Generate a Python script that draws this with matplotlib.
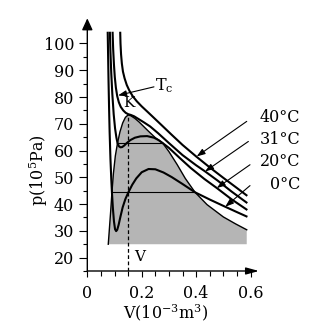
import matplotlib
matplotlib.use("Agg")
import matplotlib.pyplot as plt
from matplotlib.ticker import MultipleLocator, FixedLocator, FixedFormatter

plt.rcParams["font.family"] = ["DejaVu Serif"]
plt.rcParams["mathtext.fontset"] = "dejavuserif"

# isotherms (V in 10^-3 m^3, p in 10^5 Pa)
V40 = [0.121, 0.122, 0.124, 0.127, 0.131, 0.137, 0.145, 0.155, 0.167, 0.182, 0.2,
       0.22, 0.245, 0.275, 0.31, 0.35, 0.4, 0.45, 0.5, 0.55, 0.585]
p40 = [104, 100, 96, 92.5, 89.5, 87, 84.5, 82.3, 80.3, 78.4, 76.5,
       74.6, 72.2, 69.3, 65.9, 62.1, 57.8, 53.7, 49.8, 46.0, 43.3]

V31 = [0.093, 0.095, 0.098, 0.101, 0.105, 0.11, 0.116, 0.123, 0.132, 0.141, 0.15,
       0.16, 0.172, 0.188, 0.207, 0.231, 0.26, 0.3, 0.35, 0.4, 0.433, 0.48, 0.53, 0.585]
p31 = [104, 98, 92, 87.5, 83.5, 80.3, 78, 76.3, 75, 74.1, 73.6,
       73.3, 72.8, 71.8, 70.6, 69.0, 66.5, 62.8, 58.3, 54.5, 52.2, 48.7, 44.7, 40.6]

V20 = [0.083, 0.085, 0.088, 0.092, 0.097, 0.102, 0.107, 0.111, 0.116, 0.122, 0.128,
       0.136, 0.145, 0.158, 0.175, 0.195, 0.22, 0.245, 0.262, 0.277, 0.3, 0.34,
       0.38, 0.43, 0.476, 0.53, 0.585]
p20 = [104, 97, 89, 81, 73.5, 68.3, 64.8, 62.8, 61.6, 61.2, 61.3,
       61.9, 62.8, 63.9, 64.8, 65.3, 65.4, 64.8, 63.9, 62.8, 61, 57.2,
       53.5, 49.4, 46, 41.8, 38]

V0 = [0.075, 0.0765, 0.078, 0.08, 0.082, 0.085, 0.088, 0.0905, 0.094, 0.098, 0.102,
      0.106, 0.11, 0.115, 0.122, 0.13, 0.14, 0.151, 0.165, 0.18, 0.2, 0.225, 0.25,
      0.28, 0.31, 0.35, 0.396, 0.45, 0.507, 0.55, 0.585]
p0 = [104, 95, 86, 76, 67, 57, 49.5, 44.4, 38.5, 33.5, 30.6,
      29.9, 30.4, 32.2, 35.4, 38.8, 41.9, 44.4, 47.2, 49.6, 51.9, 53.1, 53.0,
      51.8, 50.1, 47.5, 44.4, 41.7, 39.0, 37.0, 35.4]

# coexistence curve (edge of the grey region)
Vb = [0.077, 0.081, 0.086, 0.0905, 0.096, 0.103, 0.111, 0.12, 0.13, 0.14, 0.15,
      0.16, 0.175, 0.19, 0.205, 0.225, 0.25, 0.277, 0.3, 0.33, 0.36, 0.396,
      0.44, 0.5, 0.545, 0.586]
pb = [25, 30.5, 37.5, 44.4, 51.5, 58, 62.8, 67, 70.3, 72.4, 73.3,
      73.0, 72.0, 70.7, 69.2, 67.2, 64.8, 62.8, 59.6, 54.8, 49.6, 44.4,
      39.8, 35.2, 32.6, 30.4]
p_floor = 25

# horizontal (Maxwell) lines
V_h20 = [0.111, 0.277]
p_h20 = 62.8
V_h0 = [0.0905, 0.396]
p_h0 = 44.4

V_crit = 0.15
p_crit = 73.3

# labels with arrows: (text, text pos, arrow tail, arrow tip)
temp_labels = ["40°C", "31°C", "20°C", "0°C"]
label_p = [72.2, 64.0, 55.9, 47.2]
tail_V = [0.586, 0.592, 0.598, 0.598]
tail_p = [70.9, 63.4, 54.7, 46.9]
tip_V = [0.402, 0.433, 0.476, 0.507]
tip_p = [57.8, 52.2, 46.0, 39.0]

x_ticks = [0, 0.2, 0.4, 0.6]
x_ticklabels = ["0", "0.2", "0.4", "0.6"]
y_ticks = [20, 30, 40, 50, 60, 70, 80, 90, 100]

fig = plt.figure(figsize=(3.27, 3.29), dpi=100)
ax = fig.add_axes([0.267, 0.1763, 0.525, 0.768])
ax.set_xlim(0, 0.631)
ax.set_ylim(15, 109.4)

# grey two-phase region
ax.fill(Vb + [Vb[-1]], pb + [p_floor], color="#b5b5b5", lw=0, zorder=1)
ax.plot(Vb, pb, color="k", lw=1.0, zorder=2)

for V, p in [(V40, p40), (V31, p31), (V20, p20), (V0, p0)]:
    ax.plot(V, p, color="k", lw=1.5, zorder=3, solid_joinstyle="round")

ax.plot(V_h20, [p_h20, p_h20], color="k", lw=0.8, zorder=3)
ax.plot(V_h0, [p_h0, p_h0], color="k", lw=0.8, zorder=3)
ax.plot([V_crit, V_crit], [15, p_crit], color="k", lw=0.9, ls=(0, (3, 2)), zorder=2)

ax.text(0.151, 77.6, "K", fontsize=11, ha="center", va="center")
ax.text(0.194, 20.2, "V", fontsize=11, ha="center", va="center")
ax.text(0.25, 84.3, "T$_\\mathrm{c}$", fontsize=11.5, ha="left", va="center")
ax.annotate("", xy=(0.113, 80.6), xytext=(0.245, 83.8),
            arrowprops=dict(arrowstyle="-|>,head_length=0.5,head_width=0.18",
                            color="k", lw=0.8, mutation_scale=10,
                            shrinkA=0, shrinkB=0))

for t, lp, tv, tp, hv, hp in zip(temp_labels, label_p, tail_V, tail_p, tip_V, tip_p):
    ax.text(0.782, lp, t, fontsize=11.5, ha="right", va="center")
    ax.annotate("", xy=(hv, hp), xytext=(tv, tp),
                arrowprops=dict(arrowstyle="-|>,head_length=0.5,head_width=0.18",
                                color="k", lw=0.8, mutation_scale=10,
                                shrinkA=0, shrinkB=0), annotation_clip=False)

# axes drawn as arrows
for s in ax.spines.values():
    s.set_visible(False)
ax.annotate("", xy=(1, 0), xytext=(0, 0), xycoords="axes fraction",
            arrowprops=dict(arrowstyle="-|>,head_length=0.55,head_width=0.15",
                            color="k", lw=1.0, mutation_scale=14,
                            shrinkA=0, shrinkB=0))
ax.annotate("", xy=(0, 1), xytext=(0, 0), xycoords="axes fraction",
            arrowprops=dict(arrowstyle="-|>,head_length=0.5,head_width=0.23",
                            color="k", lw=1.0, mutation_scale=14,
                            shrinkA=0, shrinkB=0))

ax.xaxis.set_major_locator(FixedLocator(x_ticks))
ax.xaxis.set_major_formatter(FixedFormatter(x_ticklabels))
ax.xaxis.set_minor_locator(MultipleLocator(0.05))
ax.yaxis.set_major_locator(FixedLocator(y_ticks))
ax.yaxis.set_minor_locator(FixedLocator([15, 25, 35, 45, 55, 65, 75, 85, 95]))
ax.tick_params(axis="both", which="major", labelsize=11.5, width=0.8, color="k")
ax.tick_params(axis="x", which="major", length=4, pad=6)
ax.tick_params(axis="x", which="minor", length=3.5, width=0.8)
ax.tick_params(axis="y", which="major", length=5.5, pad=4)
ax.tick_params(axis="y", which="minor", length=3.2, width=0.8)

ax.set_xlabel("V(10$^{-3}$m$^3$)", fontsize=11.5)
ax.xaxis.set_label_coords(0.455, -0.165)
ax.xaxis.label.set_va("center")
ax.set_ylabel("p(10$^5$Pa)", fontsize=11.5)
ax.yaxis.set_label_coords(-0.285, 0.40)
ax.yaxis.label.set_va("center")

fig.savefig("out.png", dpi=100)
